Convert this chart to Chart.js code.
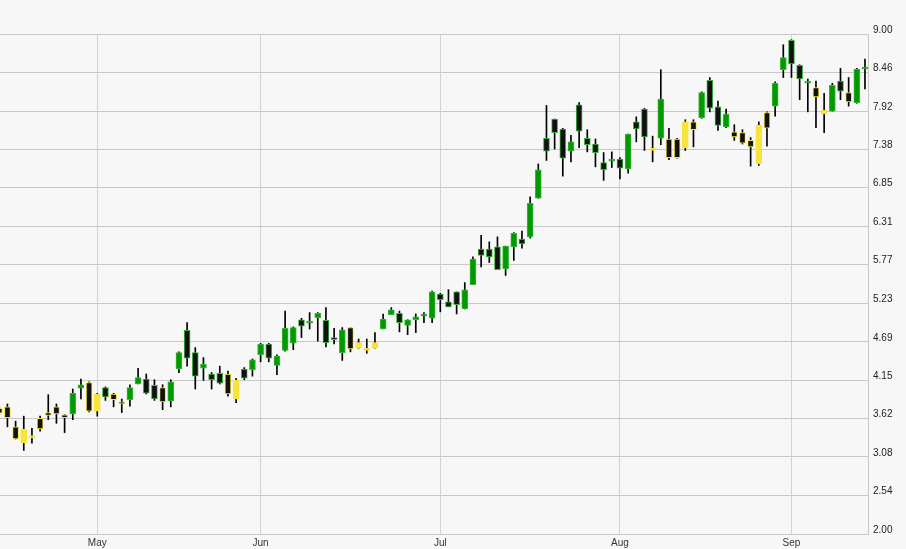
<!DOCTYPE html>
<html>
<head>
<meta charset="utf-8">
<script src="https://cdn.jsdelivr.net/npm/chart.js@4"></script>
<style>
  html, body { margin: 0; padding: 0; background: #f7f7f7; }
  #wrap { width: 906px; height: 549px; position: relative; }
</style>
</head>
<body>
<div id="wrap"><canvas id="priceChart"></canvas></div>
<script>
// trading days, Apr .. Sep (index 0 = first session shown)
const monthNames = ["May", "Jun", "Jul", "Aug", "Sep"];
const monthStart = [12, 32, 54, 76, 97];

const yTicks = ["2.00", "2.54", "3.08", "3.62", "4.15", "4.69", "5.23", "5.77", "6.31", "6.85", "7.38", "7.92", "8.46", "9.00"];

const open = [3.76, 3.78, 3.50, 3.28, 3.35, 3.62, 3.70, 3.78, 3.67, 3.68, 4.04, 4.12,
  3.72, 4.05, 3.96, 3.85, 3.88, 4.10, 4.17, 4.08, 4.05, 3.86, 4.31, 4.85, 4.54, 4.32, 4.24, 4.25, 4.24, 3.89, 4.31, 4.30,
  4.51, 4.66, 4.36, 4.57, 4.67, 5.00, 4.95, 5.03, 4.99, 4.75, 4.54, 4.89, 4.60, 4.57, 4.60, 4.87, 5.07, 5.09, 4.92, 5.00, 5.05, 5.02,
  5.36, 5.25, 5.39, 5.15, 5.49, 5.99, 5.99, 6.02, 5.71, 6.02, 6.13, 6.16, 6.70, 7.54, 7.81, 7.67, 7.36, 8.01, 7.54, 7.46, 7.20, 7.22,
  7.25, 7.11, 7.77, 7.95, 7.37, 7.54, 7.53, 7.53, 7.41, 7.77, 7.83, 8.35, 7.98, 7.70, 7.63, 7.62, 7.51, 7.18, 7.90, 7.99, 8.50,
  8.91, 8.56, 8.31, 8.25, 7.88, 7.92, 8.34, 8.18, 8.04, 8.51];
const high = [3.78, 3.82, 3.58, 3.65, 3.48, 3.65, 3.95, 3.82, 3.67, 4.03, 4.17, 4.13,
  3.97, 4.06, 3.97, 3.89, 4.09, 4.32, 4.24, 4.16, 4.09, 4.16, 4.55, 4.96, 4.61, 4.47, 4.26, 4.35, 4.28, 4.18, 4.33, 4.45,
  4.67, 4.67, 4.51, 5.12, 4.90, 5.02, 5.10, 5.10, 5.17, 4.88, 4.89, 4.89, 4.73, 4.73, 4.82, 5.08, 5.17, 5.12, 5.00, 5.08, 5.10, 5.40,
  5.37, 5.42, 5.39, 5.52, 5.88, 6.18, 6.09, 6.16, 6.03, 6.22, 6.24, 6.72, 7.18, 8.00, 7.81, 7.68, 7.58, 8.04, 7.66, 7.53, 7.34, 7.35,
  7.27, 7.60, 7.84, 7.96, 7.57, 8.50, 7.68, 7.54, 7.80, 7.80, 8.19, 8.39, 8.06, 7.95, 7.73, 7.66, 7.55, 7.77, 7.91, 8.33, 8.85,
  8.92, 8.57, 8.37, 8.34, 8.17, 8.31, 8.52, 8.39, 8.52, 8.65];
const low = [3.67, 3.50, 3.33, 3.17, 3.27, 3.44, 3.60, 3.55, 3.42, 3.60, 3.89, 3.71,
  3.65, 3.87, 3.78, 3.70, 3.79, 4.10, 3.96, 3.87, 3.74, 3.78, 4.26, 4.35, 4.03, 4.15, 4.03, 4.10, 3.93, 3.84, 4.16, 4.21,
  4.41, 4.41, 4.23, 4.56, 4.58, 4.75, 4.87, 4.70, 4.62, 4.66, 4.43, 4.55, 4.60, 4.53, 4.60, 4.87, 5.07, 4.83, 4.79, 4.82, 4.96, 4.96,
  5.11, 5.18, 5.08, 5.15, 5.49, 5.74, 5.80, 5.70, 5.62, 5.83, 6.00, 6.14, 6.70, 7.23, 7.39, 7.01, 7.21, 7.41, 7.35, 7.14, 6.95, 7.13,
  6.97, 7.05, 7.49, 7.37, 7.21, 7.45, 7.24, 7.26, 7.37, 7.42, 7.82, 7.91, 7.65, 7.69, 7.51, 7.46, 7.15, 7.16, 7.43, 7.85, 8.39,
  8.39, 8.08, 7.91, 7.69, 7.62, 7.92, 8.08, 7.99, 8.03, 8.23];
const close = [3.69, 3.63, 3.33, 3.47, 3.35, 3.47, 3.66, 3.68, 3.63, 3.97, 4.09, 3.72,
  3.96, 3.92, 3.88, 3.82, 4.05, 4.19, 3.97, 3.89, 3.85, 4.13, 4.54, 4.46, 4.21, 4.38, 4.16, 4.11, 3.96, 4.15, 4.18, 4.44,
  4.66, 4.46, 4.49, 4.88, 4.89, 4.91, 4.96, 5.09, 4.68, 4.72, 4.86, 4.59, 4.68, 4.58, 4.68, 5.01, 5.14, 4.96, 5.00, 5.04, 5.06, 5.39,
  5.28, 5.18, 5.21, 5.42, 5.85, 5.90, 5.88, 5.70, 6.03, 6.21, 6.06, 6.63, 7.10, 7.36, 7.62, 7.26, 7.49, 7.64, 7.45, 7.34, 7.10, 7.23,
  7.12, 7.60, 7.67, 7.56, 7.38, 8.09, 7.27, 7.27, 7.77, 7.66, 8.18, 7.96, 7.72, 7.88, 7.56, 7.47, 7.42, 7.72, 7.68, 8.31, 8.67,
  8.58, 8.37, 8.32, 8.12, 7.93, 8.28, 8.20, 8.05, 8.51, 8.52];
// 1 = session closed above the previous one (green), 0 = below (yellow)
const gain = [0, 0, 0, 0, 0, 0, 0, 0, 0, 1, 1, 0,
  0, 1, 0, 0, 1, 1, 1, 1, 0, 1, 1, 1, 1, 1, 1, 1, 0, 0, 1, 1,
  1, 1, 1, 1, 1, 1, 1, 1, 1, 1, 1, 0, 0, 0, 0, 1, 1, 1, 1, 1, 1, 1,
  1, 1, 1, 1, 1, 1, 1, 1, 1, 1, 1, 1, 1, 1, 1, 1, 1, 1, 1, 1, 1, 1,
  1, 1, 1, 1, 0, 1, 0, 0, 0, 0, 1, 1, 1, 1, 0, 0, 0, 0, 0, 1, 1,
  1, 1, 1, 0, 0, 1, 1, 0, 1, 1];

const GREEN = "#009a00", GREEN_EDGE = "#3cb43c", YELLOW = "#f7e43a", BLACK = "#111111";

const bodies = open.map((o, i) => ({ x: i, y: [o, close[i]] }));
const wicks = low.map((l, i) => ({ x: i, y: [l, high[i]] }));
const fills = open.map((o, i) => close[i] >= o ? (gain[i] ? GREEN : YELLOW) : BLACK);
const edges = gain.map(g => g ? GREEN_EDGE : YELLOW);

const ctx = document.getElementById("priceChart").getContext("2d");
new Chart(ctx, {
  type: "bar",
  data: {
    datasets: [{
      data: bodies,
      backgroundColor: fills,
      borderColor: edges,
      borderWidth: 1,
      borderSkipped: false,
      barThickness: 6,
      minBarLength: 2,
      grouped: false,
      order: 1
    }, {
      data: wicks,
      backgroundColor: "#000000",
      borderWidth: 0,
      barThickness: 1,
      grouped: false,
      order: 2
    }]
  },
  options: {
    responsive: true,
    maintainAspectRatio: false,
    animation: false,
    layout: { padding: { top: 34, left: 0, right: 0, bottom: 0 } },
    plugins: { legend: { display: false }, tooltip: { enabled: false } },
    scales: {
      x: {
        type: "linear",
        min: 0.09,
        max: 106.37,
        offset: false,
        grid: { color: "#d2d2d2", drawTicks: false, offset: false },
        border: { display: true, color: "#c8c8c8" },
        afterBuildTicks: s => { s.ticks = monthStart.map(v => ({ value: v })); },
        afterFit: s => { s.height = 15; },
        ticks: {
          autoSkip: false,
          maxRotation: 0,
          padding: 3,
          color: "#333333",
          font: { family: "'Liberation Sans', Arial, sans-serif", size: 10 },
          callback: (v, i) => monthNames[i]
        }
      },
      y: {
        position: "right",
        min: 2,
        max: 9,
        grid: { color: "#c8c8c8", drawTicks: false },
        border: { display: true, color: "#c8c8c8" },
        afterBuildTicks: s => { s.ticks = yTicks.map(t => ({ value: parseFloat(t) })); },
        afterFit: s => { s.width = 38; },
        ticks: {
          padding: 5,
          labelOffset: -4,
          color: "#222222",
          font: { family: "'Liberation Sans', Arial, sans-serif", size: 10 },
          callback: (v, i) => yTicks[i]
        }
      }
    }
  }
});
</script>
</body>
</html>
